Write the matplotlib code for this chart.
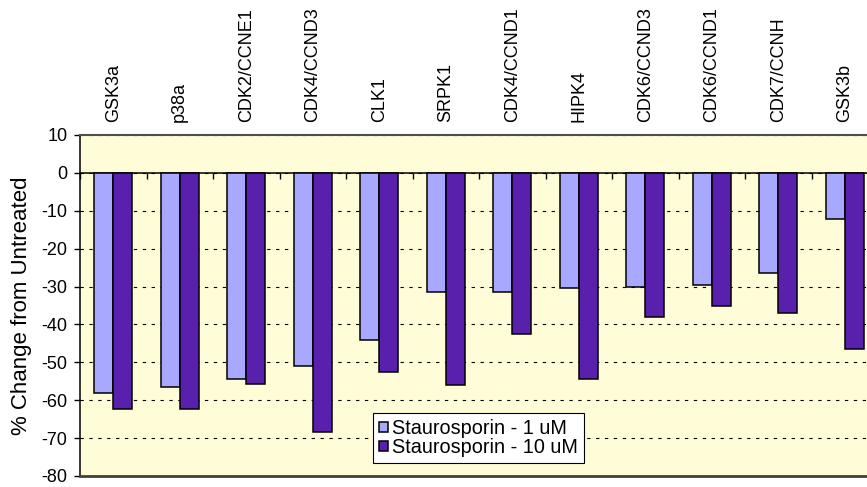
import numpy as np
import matplotlib.pyplot as plt

plt.rcParams['font.family'] = ['Liberation Sans', 'DejaVu Sans']
plt.rcParams['axes.unicode_minus'] = False

kinases = ['GSK3a', 'p38a', 'CDK2/CCNE1', 'CDK4/CCND3', 'CLK1', 'SRPK1',
           'CDK4/CCND1', 'HIPK4', 'CDK6/CCND3', 'CDK6/CCND1', 'CDK7/CCNH', 'GSK3b']
stauro_1um = [-58.0, -56.5, -54.4, -51.0, -44.2, -31.5,
              -31.5, -30.3, -30.1, -29.5, -26.5, -12.3]
stauro_10um = [-62.3, -62.2, -55.8, -68.5, -52.5, -56.0,
               -42.6, -54.5, -38.0, -35.2, -36.9, -46.5]
series_names = ['Staurosporin - 1 uM', 'Staurosporin - 10 uM']

fig = plt.figure(figsize=(8.67, 4.87), dpi=100)
# plot area runs past the right edge of the figure
ax = fig.add_axes([0.0923, 0.0226, 0.9204, 0.7002])
ax.set_facecolor('#FFFDD8')

x = np.arange(len(kinases))
w = 0.285
ax.bar(x - w / 2, stauro_1um, w, color='#A8A8FF', edgecolor='black',
       linewidth=1.1, label=series_names[0], zorder=3)
ax.bar(x + w / 2, stauro_10um, w, color='#5820AD', edgecolor='black',
       linewidth=1.1, label=series_names[1], zorder=3)

ax.set_xlim(-0.5, len(kinases) - 0.5)
ax.set_ylim(-80, 10)
ax.set_yticks(np.arange(-80, 11, 10))
ax.yaxis.grid(True, color='black', linestyle=(0, (3, 5)), linewidth=0.8)
ax.set_axisbelow(True)

# category names along the top, tick marks along the zero line
ax.set_xticks(x)
ax.set_xticklabels(kinases)
ax.set_xticks(np.arange(len(kinases) + 1) - 0.5, minor=True)
ax.tick_params(axis='x', which='major', bottom=False, top=False,
               labelbottom=False, labeltop=True, labelrotation=90,
               labelsize=13, pad=6)
ax.tick_params(axis='x', which='minor', bottom=True, top=False,
               direction='out', length=4, width=1)
ax.spines['bottom'].set_position(('data', 0))
ax.spines['bottom'].set_linewidth(1.1)
ax.spines['right'].set_visible(False)
ax.spines['top'].set_color('#505050')
ax.spines['top'].set_linewidth(1.5)
ax.spines['left'].set_linewidth(1.1)
ax.axhline(-80, color='#404040', linewidth=2, clip_on=False, zorder=4)

ax.tick_params(axis='y', direction='out', length=4, width=1, labelsize=13, pad=5)
ax.set_ylabel('% Change from Untreated', fontsize=16, labelpad=7)

leg = ax.legend(loc='lower left', bbox_to_anchor=(0.367, 0.038),
                fontsize=14.3, frameon=True, fancybox=False, framealpha=1,
                edgecolor='black', handlelength=0.45, handleheight=0.45,
                handletextpad=0.2, borderpad=0.3, labelspacing=0.0,
                borderaxespad=0)
leg.get_frame().set_linewidth(0.8)

fig.savefig('out.png', dpi=100)
